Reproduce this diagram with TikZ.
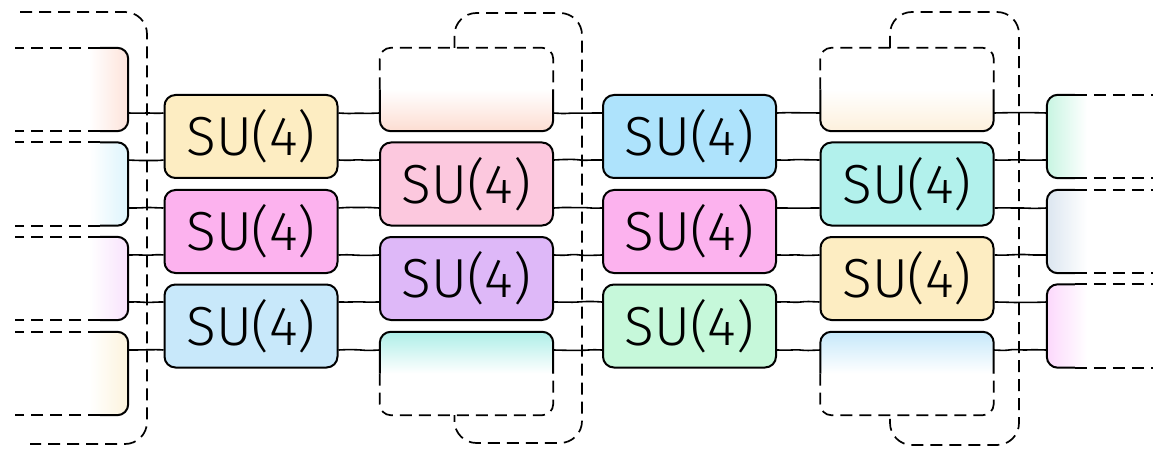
\documentclass[tikz,border=0pt]{standalone}
\usepackage{fontspec}
\newfontfamily\gatefont{Fira Sans Light}
\usepackage{tikz}
\usetikzlibrary{calc, decorations.pathmorphing}
\definecolor{gyellow}{HTML}{FDEDC2}
\definecolor{gpink}{HTML}{FCB2EE}
\definecolor{gblue}{HTML}{C8E8FA}
\definecolor{grose}{HTML}{FCC8DE}
\definecolor{gviolet}{HTML}{DEB8F8}
\definecolor{gsky}{HTML}{AEE3FC}
\definecolor{ggreen}{HTML}{C6F8DA}
\definecolor{gteal}{HTML}{B2F1EC}
\definecolor{fpeach}{HTML}{FDE3DA}
\definecolor{fcyan}{HTML}{DDF4FC}
\definecolor{flilac}{HTML}{F8E2FC}
\definecolor{fcream}{HTML}{FCF3DC}
\definecolor{fsalmon}{HTML}{FDDDD2}
\definecolor{faqua}{HTML}{AEEEE8}
\definecolor{fapricot}{HTML}{FDF0DC}
\definecolor{fice}{HTML}{C6E8FA}
\definecolor{fmint}{HTML}{C8F5E2}
\definecolor{fslate}{HTML}{DCE6F0}
\definecolor{fmauve}{HTML}{FCD8FC}

\begin{document}
\begin{tikzpicture}[x=1pt, y=-1pt,
    sketch/.style={decorate, decoration={random steps, segment length=10pt, amplitude=0.6pt}, rounded corners=2pt},
    gate/.style={draw, rectangle, rounded corners=11pt, minimum width=173pt, minimum height=83pt, line width=2pt, inner sep=0pt, font=\gatefont\fontsize{55}{60}\selectfont},
    part/.style={rectangle, rounded corners=11pt, minimum height=83pt, inner sep=0pt},
    edge/.style={draw, line width=2pt, rounded corners=11pt},
    dashedge/.style={draw, line width=1.7pt, rounded corners=11pt, dash pattern=on 12pt off 7pt},
    wire/.style={draw, sketch, line width=1.6pt},
    loopline/.style={draw, dash pattern=on 12pt off 7pt, line width=1.7pt, rounded corners=22pt}
]
    \path[use as bounding box, clip] (0,0) rectangle (1153,449);

    \coordinate (w0) at (0,113);
    \coordinate (w1) at (0,160);
    \coordinate (w2) at (0,208);
    \coordinate (w3) at (0,255);
    \coordinate (w4) at (0,302);
    \coordinate (w5) at (0,350);

    \node[part, minimum width=78pt, left color=white, right color=fpeach, middle color=white] (l1) at (89,89.5) {};
    \node[part, minimum width=78pt, left color=white, right color=fcyan, middle color=white] (l2) at (89,184) {};
    \node[part, minimum width=78pt, left color=white, right color=flilac, middle color=white] (l3) at (89,278.5) {};
    \node[part, minimum width=78pt, left color=white, right color=fcream, middle color=white] (l4) at (89,373.5) {};

    \node[gate, fill=gyellow] (g1a) at (251,136.5) {SU(4)};
    \node[gate, fill=gpink] (g1b) at (251,231.5) {SU(4)};
    \node[gate, fill=gblue] (g1c) at (251,326) {SU(4)};

    \node[part, minimum width=173pt, top color=white, bottom color=fsalmon, middle color=white] (h2t) at (466.5,89.5) {};
    \node[gate, fill=grose] (g2a) at (466.5,184) {SU(4)};
    \node[gate, fill=gviolet] (g2b) at (466.5,278.5) {SU(4)};
    \node[part, minimum width=173pt, top color=faqua, bottom color=white, middle color=white] (h2b) at (466.5,373.5) {};

    \node[gate, fill=gsky] (g3a) at (689.5,136.5) {SU(4)};
    \node[gate, fill=gpink] (g3b) at (689.5,231.5) {SU(4)};
    \node[gate, fill=ggreen] (g3c) at (689.5,326) {SU(4)};

    \node[part, minimum width=173pt, top color=white, bottom color=fapricot, middle color=white] (h4t) at (907,89.5) {};
    \node[gate, fill=gteal] (g4a) at (907,184) {SU(4)};
    \node[gate, fill=gyellow] (g4b) at (907,278.5) {SU(4)};
    \node[part, minimum width=173pt, top color=fice, bottom color=white, middle color=white] (h4b) at (907,373.5) {};

    \node[part, minimum width=80pt, left color=fmint, right color=white, middle color=white] (r1) at (1087,136.5) {};
    \node[part, minimum width=80pt, left color=fslate, right color=white, middle color=white] (r2) at (1087,231.5) {};
    \node[part, minimum width=80pt, left color=fmauve, right color=white, middle color=white] (r3) at (1087,326) {};

    \foreach \a/\b/\w in {l1/g1a/w0, l2/g1a/w1, l2/g1b/w2, l3/g1b/w3, l3/g1c/w4, l4/g1c/w5,
        g1a/h2t/w0, g1a/g2a/w1, g1b/g2a/w2, g1b/g2b/w3, g1c/g2b/w4, g1c/h2b/w5,
        h2t/g3a/w0, g2a/g3a/w1, g2a/g3b/w2, g2b/g3b/w3, g2b/g3c/w4, h2b/g3c/w5,
        g3a/h4t/w0, g3a/g4a/w1, g3b/g4a/w2, g3b/g4b/w3, g3c/g4b/w4, g3c/h4b/w5,
        h4t/r1/w0, g4a/r1/w1, g4a/r2/w2, g4b/r2/w3, g4b/r3/w4, h4b/r3/w5}
        \draw[wire] (\a.east |- \w) -- (\b.west |- \w);

    \foreach \n in {l1,l2,l3,l4} {
        \draw[edge] ($(\n.north east)+(-28,0)$) -- (\n.north east) -- (\n.south east) -- ($(\n.south east)+(-28,0)$);
        \draw[dashedge] ($(\n.north east)+(-28,0)$) -- ++(-85,0) ($(\n.south east)+(-28,0)$) -- ++(-85,0);
    }
    \foreach \n in {r1,r2,r3} {
        \draw[edge] ($(\n.north west)+(28,0)$) -- (\n.north west) -- (\n.south west) -- ($(\n.south west)+(28,0)$);
        \draw[dashedge] ($(\n.north west)+(28,0)$) -- ++(85,0) ($(\n.south west)+(28,0)$) -- ++(85,0);
    }
    \foreach \n in {h2t,h4t} {
        \draw[edge] (\n.west) -- (\n.south west) -- (\n.south east) -- (\n.east);
        \draw[dashedge] (\n.west) -- (\n.north west) -- (\n.north east) -- (\n.east);
    }
    \foreach \n in {h2b,h4b} {
        \draw[edge] (\n.west) -- (\n.north west) -- (\n.north east) -- (\n.east);
        \draw[dashedge] (\n.west) -- (\n.south west) -- (\n.south east) -- (\n.east);
    }

    \draw[loopline] (20,12) -- (147,12) -- (147,444) -- (30,444);
    \draw[loopline] ($(h2t.north)+(-12,0)$) |- (582,13) -- (582,443) -| ($(h2b.south)+(-12,0)$);
    \draw[loopline] ($(h4t.north)+(-17,0)$) |- (1019,12) -- (1019,445) -| ($(h4b.south)+(-17,0)$);
\end{tikzpicture}
\end{document}
